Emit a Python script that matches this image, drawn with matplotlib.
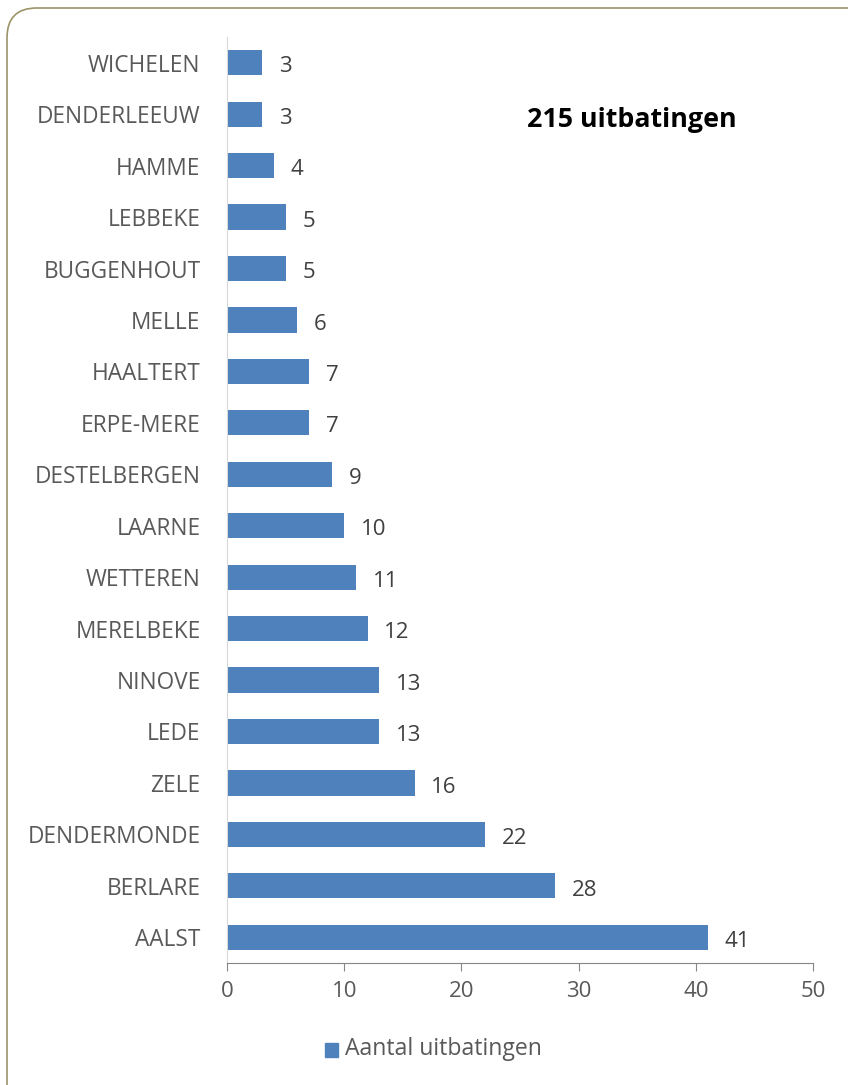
import matplotlib.pyplot as plt
from matplotlib.patches import FancyBboxPatch

gemeenten = ["WICHELEN", "DENDERLEEUW", "HAMME", "LEBBEKE", "BUGGENHOUT", "MELLE",
             "HAALTERT", "ERPE-MERE", "DESTELBERGEN", "LAARNE", "WETTEREN", "MERELBEKE",
             "NINOVE", "LEDE", "ZELE", "DENDERMONDE", "BERLARE", "AALST"]
aantal = [3, 3, 4, 5, 5, 6, 7, 7, 9, 10, 11, 12, 13, 13, 16, 22, 28, 41]
x_ticks = [0, 10, 20, 30, 40, 50]

plt.rcParams['font.family'] = ['Open Sans', 'DejaVu Sans']

fig = plt.figure(figsize=(8.48, 10.85), dpi=100)

# rounded frame, running off the right and bottom edges
frame = FancyBboxPatch((7 / 848, -40 / 1085), 900 / 848, 1117 / 1085,
                       boxstyle="round,pad=0,rounding_size=0.035",
                       transform=fig.transFigure, facecolor="none",
                       edgecolor="#9C9468", linewidth=1.2, mutation_aspect=848 / 1085,
                       zorder=-1)
fig.patches.append(frame)

ax = fig.add_axes([227 / 848, 122 / 1085, 586 / 848, 926 / 1085])
ax.set_facecolor("none")
y = range(len(gemeenten))
ax.barh(y, aantal, height=0.49, color="#4F81BD")
ax.set_ylim(len(gemeenten) - 0.5, -0.5)
ax.set_xlim(0, 50)
ax.set_yticks(list(y))
ax.set_yticklabels(gemeenten, fontsize=16.3, color="#595959")
ax.set_xticks(x_ticks)
ax.set_xticklabels([str(t) for t in x_ticks], fontsize=16, color="#595959")
ax.tick_params(axis="y", length=0, pad=19)
ax.tick_params(axis="x", length=6, color="#868686", pad=7)

for s in ["top", "right"]:
    ax.spines[s].set_visible(False)
ax.spines["left"].set_color("#D9D9D9")
ax.spines["bottom"].set_color("#868686")

for i, v in enumerate(aantal):
    ax.annotate(str(v), (v, i), xytext=(12, -3), textcoords="offset points",
                va="center", ha="left", fontsize=16, color="#404040")

fig.text(632 / 848, 1 - 120 / 1085, "215 uitbatingen", fontsize=19.3, fontweight="bold",
         color="black", ha="center", va="center")

# legend
fig.patches.append(plt.Rectangle((325 / 848, 1 - 1057 / 1085), 13 / 848, 14 / 1085,
                                 transform=fig.transFigure, color="#4F81BD"))
fig.text(345 / 848, 1 - 1049 / 1085, "Aantal uitbatingen", fontsize=16.6,
         color="#595959", ha="left", va="center")

fig.savefig("out.png", dpi=100)
